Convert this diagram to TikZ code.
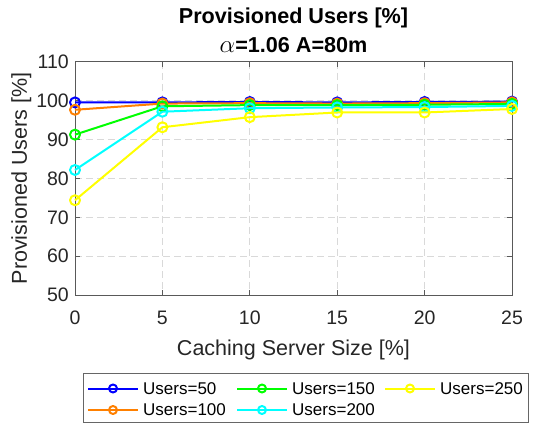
\documentclass[tikz,border=0pt]{standalone}
\usepackage{fontspec}
\setmainfont{Liberation Sans}
\definecolor{morange}{rgb}{1,0.5,0}
\definecolor{mblue}{rgb}{0,0,1}
\definecolor{mgreen}{rgb}{0,1,0}
\definecolor{mcyan}{rgb}{0,1,1}
\definecolor{myellow}{rgb}{1,1,0}
\definecolor{axcol}{rgb}{0.15,0.15,0.15}
\newcommand\series[7]{%
  \draw[serie,#1] (0,#2) -- (5,#3) -- (10,#4) -- (15,#5) -- (20,#6) -- (25,#7);
  \foreach \X/\Y in {0/#2,5/#3,10/#4,15/#5,20/#6,25/#7}
    \draw[serie,#1] (\X,\Y) circle (5pt);}
\newcommand\legitem[4]{%
  \draw[serie,#1] (#2,#3) -- ++(50,0);
  \draw[serie,#1] (#2+25,#3) circle (4pt);
  \node[legtext,anchor=west] (leg#1) at (#2+55,#3) {#4};}
\begin{document}
\begin{tikzpicture}[x=1pt,y=-1pt,
  ticklab/.style={font=\fontsize{19.5}{22}\selectfont, text=axcol, inner sep=0},
  axlab/.style={font=\fontsize{21.5}{24}\selectfont, text=axcol, inner sep=0},
  titlelab/.style={font=\fontsize{21.6}{24}\selectfont\bfseries, text=black, inner sep=0},
  legtext/.style={font=\fontsize{17}{20}\selectfont, text=black, inner sep=0},
  gridline/.style={draw=black!15, line width=0.9pt, dash pattern=on 7pt off 4pt},
  axline/.style={draw=black!65, line width=1pt},
  serie/.style={line width=2pt, line join=round},
  ]
\fill[white] (0,0) rectangle (544,425);
\useasboundingbox (0,0) rectangle (544,425);
% grid
\foreach \gx in {5,10,15,20}
  \draw[gridline] ({75+\gx*17.48},62) -- ({75+\gx*17.48},295);
\foreach \gy in {60,70,80,90,100}
  \draw[gridline] (75,{295-(\gy-50)*3.883}) -- (512,{295-(\gy-50)*3.883});
% ticks
\foreach \gx in {5,10,15,20} {
  \draw[axline] ({75+\gx*17.48},295) -- ++(0,-5);
  \draw[axline] ({75+\gx*17.48},62) -- ++(0,5);}
\foreach \gy in {60,70,80,90,100} {
  \draw[axline] (75,{295-(\gy-50)*3.883}) -- ++(5,0);
  \draw[axline] (512,{295-(\gy-50)*3.883}) -- ++(-5,0);}
% box
\draw[axline] (75,62) rectangle (512,295);
% tick labels
\foreach \gy in {50,60,70,80,90,100,110}
  \node[ticklab,anchor=east] (yt\gy) at (69,{295-(\gy-50)*3.883}) {\gy};
\foreach \gx in {0,5,10,15,20,25}
  \node[ticklab,anchor=base] (xt\gx) at ({75+\gx*17.48},324) {\gx};
% axis labels
\node[axlab,anchor=base] (xlabel) at (293.5,355) {Caching Server Size [\%]};
\node[axlab,anchor=base,rotate=90] (ylabel) at (27,178.5) {Provisioned Users [\%]};
% title
\node[titlelab,anchor=base] (title1) at (293.5,24) {Provisioned Users [\%]};
\node[titlelab,anchor=base] (title2) at (293.5,53) {\fontsize{24}{24}\selectfont$\alpha$\fontsize{21.6}{24}\selectfont=1.06 A=80m};
% data
\begin{scope}[shift={(75,489.15)},x=17.48pt,y=3.883pt]
  \series{mblue}{99.6}{99.6}{99.7}{99.6}{99.7}{99.8}
  \series{morange}{97.7}{99.3}{99.4}{99.3}{99.4}{99.6}
  \series{mgreen}{91.3}{98.6}{98.9}{98.9}{99.0}{99.2}
  \series{mcyan}{82.2}{97.2}{98.1}{98.3}{98.4}{98.7}
  \series{myellow}{74.4}{93.2}{95.8}{97.0}{97.0}{97.9}
\end{scope}
% legend
\draw[draw=black!60, line width=0.8pt, fill=white] (83,373) rectangle (528,422);
\legitem{mblue}{88}{388.5}{Users=50}
\legitem{morange}{88}{410}{Users=100}
\legitem{mgreen}{237}{388.5}{Users=150}
\legitem{mcyan}{237}{410}{Users=200}
\legitem{myellow}{385}{388.5}{Users=250}
\end{tikzpicture}
\end{document}
